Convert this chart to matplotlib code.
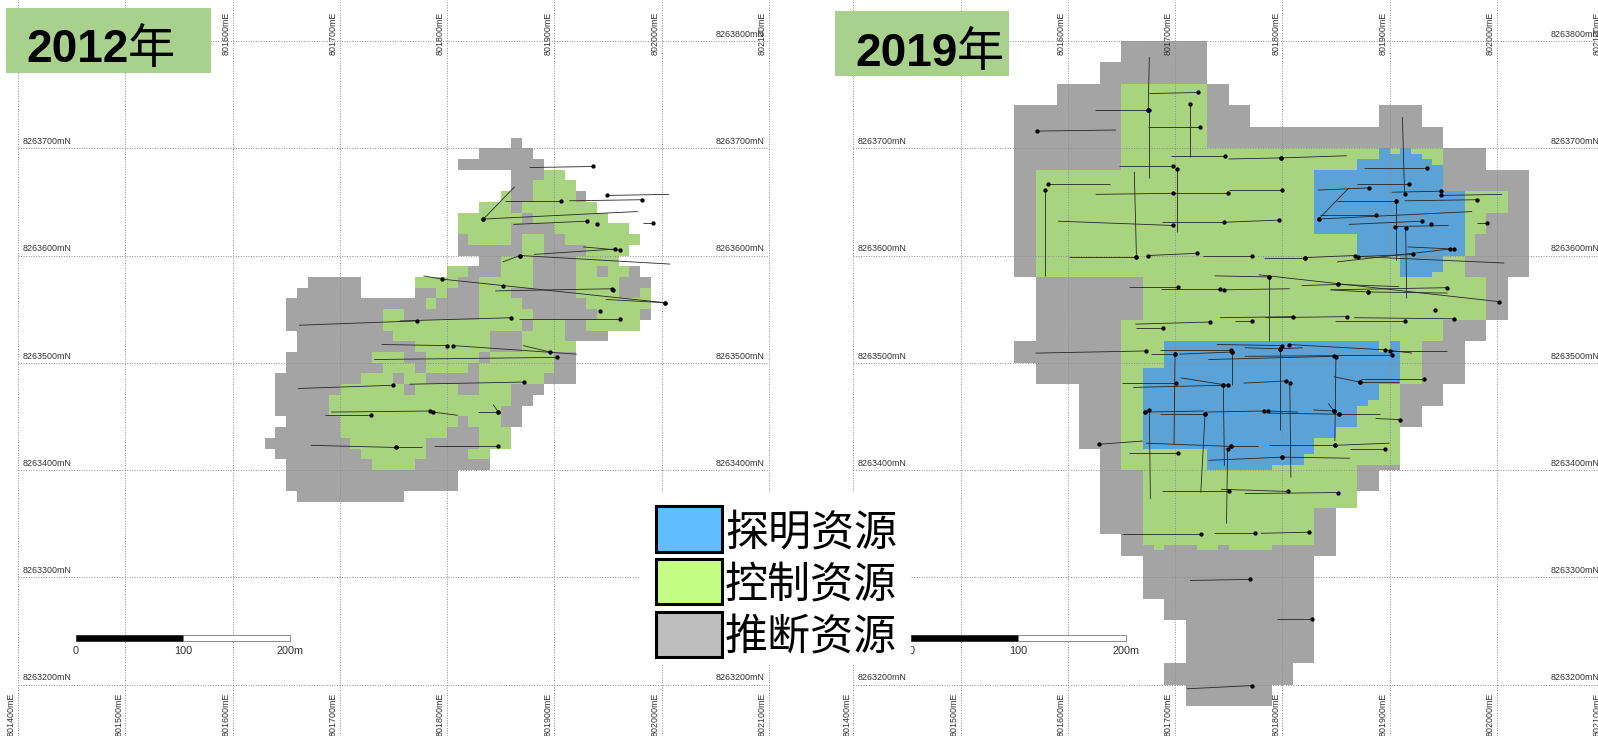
#!/usr/bin/env python3
"""Resource classification maps, 2012 vs 2019, block model plan view with drill traces."""

import matplotlib
matplotlib.use("Agg")
import matplotlib.pyplot as plt
from matplotlib.patches import Rectangle

EAST_BASE = 801000
NORTH_BASE = 8263000
EASTINGS = [801400, 801500, 801600, 801700, 801800, 801900, 802000, 802100]
NORTHINGS = [8263200, 8263300, 8263400, 8263500, 8263600, 8263700, 8263800]
TOP_EASTINGS = [801600, 801700, 801800, 801900, 802000, 802100]
LEFT_SIDE_2012 = [8263200, 8263300, 8263400, 8263500, 8263600, 8263700]
RIGHT_SIDE_2012 = [8263200, 8263400, 8263500, 8263600, 8263700, 8263800]
LEFT_SIDE_2019 = [8263200, 8263400, 8263500, 8263600, 8263700]
RIGHT_SIDE_2019 = [8263200, 8263300, 8263400, 8263500, 8263600, 8263700, 8263800]
SCALE_STOPS = [0, 100, 200]
SCALE_LABELS = ["0", "100", "200m"]

CLASS_NAMES = ["探明资源", "控制资源", "推断资源"]
LEGEND_COLORS = ["#5EBEFF", "#C4FF85", "#BDBDBD"]
BLOCK_COLORS = {"b": "#5BA3D6", "c": "#A9D47F", "G": "#A4A4A4"}

# block rows: north low, north high (offset from NORTH_BASE), runs in 10 m columns from 801400
BLOCKS_2012 = [
    (700, 710, "G46-47"),
    (690, 700, "G43-48"),
    (680, 690, "G41-49"),
    (670, 680, "G46-49 c49-51"),
    (660, 670, "G46-48 c48-52"),
    (650, 660, "c45-46 G46-48 c48-52 G52-53"),
    (640, 650, "c43-46 G46-47 c47-54"),
    (630, 640, "c41-47 G47-48 c48-55"),
    (620, 630, "c41-46 G46-50 c50-57"),
    (610, 620, "G41-42 c42-46 G46-47 c47-49 G49-51 c51-58"),
    (600, 610, "G41-47 c47-49 G49-53 c53-57"),
    (590, 600, "G43-45 c45-48 G48-52 c52-56"),
    (580, 590, "c40-42 G42-45 c45-48 G48-52 c52-54 G54-55 c55-57 G57-58"),
    (570, 580, "G27-32 c37-41 G41-43 c43-48 G48-52 c52-56 G56-59"),
    (560, 570, "G26-32 G37-39 c39-40 G40-43 c43-46 G46-52 c52-56 G56-58 c58-59"),
    (550, 560, "G25-38 c38-39 G39-43 c43-47 G47-53 c53-59"),
    (540, 550, "G25-34 c34-36 G36-43 c43-48 G48-54 c54-58 G58-59"),
    (530, 540, "G25-34 c34-47 G47-48 c48-51 G51-53 c53-58"),
    (520, 530, "G26-35 c35-44 G44-47 c47-51 G51-55"),
    (510, 520, "G26-37 c37-44 G44-47 c47-52"),
    (500, 510, "G25-33 c33-36 G36-38 c38-43 G43-44 c44-50 G50-52"),
    (490, 500, "G25-34 c34-37 G37-38 c38-42 G42-43 c43-50 G50-52"),
    (480, 490, "G24-32 c32-35 G35-36 c36-38 G38-43 c43-49 G49-52"),
    (470, 480, "G24-30 c30-36 G36-37 c37-41 G41-43 c43-46 G46-49"),
    (460, 470, "G24-29 c29-46 G46-48"),
    (450, 460, "G24-29 c29-45 G45-47"),
    (440, 450, "G25-30 c30-41 G41-42 c42-45 G45-47"),
    (430, 440, "G24-30 c30-40 G40-43 c43-46"),
    (420, 430, "G23-31 c31-38 G38-43 c43-46"),
    (410, 420, "G24-32 c32-38 G38-42 c42-44"),
    (400, 410, "G25-33 c33-37 G37-44"),
    (390, 400, "G25-41"),
    (380, 390, "G25-41"),
    (370, 380, "G26-36"),
]

BLOCKS_2019 = [
    (780, 800, "G25-33"),
    (760, 780, "G23-33"),
    (740, 760, "G19-25 c25-33 G33-35"),
    (720, 740, "G15-25 c25-33 G33-37 G49-53"),
    (700, 720, "G15-25 c25-33 G33-55"),
    (680, 700, "G15-25 c25-55 G55-59"),
    (660, 680, "G15-17 c17-55 G55-63"),
    (640, 660, "G15-17 c17-61 G61-63"),
    (620, 640, "G15-17 c17-59 G59-63"),
    (600, 620, "G15-17 c17-58 G58-63"),
    (580, 600, "G15-17 c17-57 G57-63"),
    (560, 580, "G17-27 c27-59 G59-61"),
    (540, 560, "G17-27 c27-59 G59-61"),
    (520, 540, "G17-25 c25-55 G55-59"),
    (500, 520, "G15-25 c25-53 G53-57"),
    (480, 500, "G17-25 c25-53 G53-57"),
    (460, 480, "G21-25 c25-51 G51-55"),
    (440, 460, "G21-25 c25-51 G51-53"),
    (420, 440, "G21-25 c25-51"),
    (405, 420, "G23-25 c25-51"),
    (400, 405, "G23-25 c25-47 G47-51"),
    (380, 400, "G23-27 c27-47 G47-49"),
    (365, 380, "G23-27 c27-47"),
    (360, 365, "G23-27 c27-43 G43-45"),
    (340, 360, "G23-27 c27-43 G43-45"),
    (330, 340, "G25-27 c27-43 G43-45"),
    (325, 330, "G25-45 c28-29 c32-34 c35-39"),
    (320, 325, "G25-45"),
    (300, 320, "G27-43"),
    (280, 300, "G27-43"),
    (260, 280, "G29-43"),
    (240, 260, "G31-43"),
    (220, 240, "G31-43"),
    (200, 220, "G29-41"),
    (180, 200, "G31-39"),
    # measured blocks over the rest
    (695, 700, "b49-50 b51-52"),
    (690, 695, "b49-53"),
    (684, 690, "b47-54"),
    (680, 684, "b47-55"),
    (660, 680, "b43-55"),
    (620, 660, "b43-57"),
    (600, 620, "b47-57"),
    (585, 600, "b51-55"),
    (580, 585, "b51-54"),
    (510, 520, "b29-49 b50-51"),
    (500, 510, "b29-51"),
    (495, 500, "b29-51"),
    (480, 495, "b27-51"),
    (465, 480, "b27-49"),
    (460, 465, "b27-48"),
    (440, 460, "b27-47"),
    (430, 440, "b27-45"),
    (420, 430, "b27-43"),
    (415, 420, "b33-43"),
    (405, 415, "b33-42"),
    (400, 405, "b33-39"),
]

# drill holes: collar east, collar north, end east, end north (offsets from EAST_BASE, NORTH_BASE)
HOLES_2012 = [
    (936, 683, 877, 682), (949, 656, 1007, 657), (982, 652, 914, 651), (906, 651, 854, 651),
    (834, 634, 863, 664), (834, 634, 978, 641), (931, 632, 862, 629), (940, 629, 940, 629),
    (992, 630, 983, 630), (868, 600, 852, 594), (957, 606, 881, 601), (961, 605, 927, 608),
    (868, 600, 1008, 592), (795, 578, 778, 581), (852, 572, 795, 578), (954, 569, 845, 567),
    (1003, 556, 852, 572), (955, 568, 955, 568), (943, 548, 943, 548), (1003, 556, 948, 559),
    (772, 539, 662, 535), (860, 542, 756, 539), (961, 541, 867, 541), (800, 516, 739, 517),
    (806, 516, 921, 508), (896, 510, 871, 516), (903, 505, 732, 503), (872, 482, 765, 480),
    (750, 479, 661, 476), (784, 455, 692, 454), (787, 454, 810, 451), (729, 451, 686, 451),
    (848, 454, 829, 454), (848, 454, 843, 461), (752, 421, 673, 423), (752, 421, 777, 421),
    (848, 422, 788, 422),
]

HOLES_2019 = [
    (675, 736, 676, 785), (676, 736, 676, 672), (721, 752, 676, 751), (714, 741, 714, 692),
    (675, 736, 625, 736), (723, 720, 675, 720), (571, 716, 645, 717), (747, 693, 696, 693),
    (799, 691, 750, 690), (799, 691, 860, 693), (698, 683, 648, 683), (702, 681, 702, 622),
    (582, 667, 639, 667), (579, 661, 579, 581), (800, 661, 750, 661), (749, 658, 699, 658),
    (698, 658, 626, 657), (664, 599, 662, 678), (698, 628, 591, 632), (746, 631, 688, 631),
    (797, 633, 746, 631), (664, 599, 601, 599), (720, 602, 675, 600), (675, 600, 675, 600),
    (772, 600, 726, 600), (821, 598, 783, 598), (821, 598, 867, 600), (868, 600, 868, 600),
    (935, 682, 876, 682), (914, 657, 912, 729), (918, 667, 870, 667), (881, 663, 833, 661),
    (948, 660, 902, 659), (948, 656, 1005, 657), (906, 651, 851, 651), (982, 652, 914, 651),
    (834, 634, 862, 663), (834, 634, 977, 641), (887, 638, 835, 638), (930, 632, 862, 629),
    (939, 629, 939, 629), (905, 627, 955, 628), (915, 626, 916, 560), (906, 651, 906, 596),
    (956, 606, 851, 594), (960, 606, 917, 608), (922, 601, 871, 599), (871, 599, 1007, 593),
    (991, 630, 982, 630),
    (788, 580, 788, 520), (788, 580, 737, 581), (1002, 557, 778, 582), (852, 573, 818, 572),
    (852, 573, 909, 571), (880, 566, 845, 568), (954, 570, 845, 568), (880, 566, 954, 565),
    (703, 571, 657, 571), (742, 569, 687, 569), (746, 568, 807, 569), (942, 549, 942, 549),
    (733, 538, 663, 536), (689, 532, 664, 532), (772, 539, 756, 539), (810, 543, 742, 542),
    (860, 543, 784, 542), (914, 539, 849, 539), (960, 541, 867, 542),
    (673, 511, 570, 509), (700, 508, 678, 508), (752, 512, 686, 512), (753, 510, 753, 479),
    (753, 510, 704, 508), (800, 516, 739, 517), (806, 517, 896, 512), (896, 512, 921, 509),
    (798, 513, 765, 514), (798, 513, 798, 437), (798, 513, 819, 514), (900, 511, 954, 511),
    (902, 507, 765, 506), (848, 506, 731, 503), (850, 505, 849, 427), (700, 508, 699, 424),
    (701, 481, 651, 481), (745, 479, 661, 477), (749, 479, 705, 486), (803, 483, 764, 481),
    (807, 481, 808, 393), (745, 479, 746, 404), (872, 482, 848, 487), (932, 485, 873, 485),
    (872, 482, 909, 482), (672, 454, 672, 454), (676, 456, 677, 373), (672, 454, 727, 455),
    (728, 452, 686, 452), (728, 452, 724, 379), (783, 455, 728, 454), (787, 455, 815, 454),
    (848, 455, 829, 456), (848, 455, 843, 462), (853, 452, 788, 453), (853, 452, 891, 452),
    (910, 447, 887, 448), (629, 424, 670, 427), (752, 422, 673, 425), (749, 420, 748, 350),
    (752, 422, 777, 422), (849, 423, 788, 423), (849, 423, 900, 425), (896, 420, 863, 420),
    (703, 416, 657, 416), (800, 412, 731, 409), (800, 412, 863, 411), (750, 380, 688, 380),
    (805, 380, 743, 382), (852, 379, 765, 378), (724, 340, 651, 340), (775, 341, 736, 341),
    (825, 342, 780, 341), (770, 298, 714, 297), (828, 261, 795, 261), (772, 199, 711, 196),
]

plt.rcParams["font.family"] = ["Liberation Sans", "Noto Sans CJK SC"]

W, H = 1598, 736
PX_PER_M = 1.0725
LABEL_FONT = 6.4


def parse_runs(text):
    for token in text.split():
        start, stop = token[1:].split("-")
        yield token[0], int(start), int(stop)


def draw_panel(fig, left_px, width_px, origin_px, blocks, holes, left_side, right_side):
    ax = fig.add_axes([left_px / W, 0, width_px / W, 1])
    ax.set_xlim(801400 - (origin_px - left_px) / PX_PER_M,
                801400 + (left_px + width_px - origin_px) / PX_PER_M)
    ax.set_ylim(8263800 - (H - 41) / PX_PER_M, 8263800 + 41 / PX_PER_M)
    ax.axis("off")

    for low, high, runs in blocks:
        for kind, start, stop in parse_runs(runs):
            ax.broken_barh([(801400 + start * 10, (stop - start) * 10)],
                           (NORTH_BASE + low, high - low),
                           facecolors=BLOCK_COLORS[kind], linewidth=0,
                           antialiased=False, zorder=1)

    dots = (0, (1, 1.6))
    for e in EASTINGS:
        ax.axvline(e, color="#8c8c8c", lw=0.7, ls=dots, zorder=2)
    for n in NORTHINGS:
        ax.hlines(n, EASTINGS[0], EASTINGS[-1], color="#8c8c8c", lw=0.7, ls=dots, zorder=2)

    for east, north, end_e, end_n in holes:
        ax.plot([EAST_BASE + east, EAST_BASE + end_e], [NORTH_BASE + north, NORTH_BASE + end_n],
                color="#262626", lw=0.6, zorder=3, solid_capstyle="butt")
        ax.plot(EAST_BASE + east, NORTH_BASE + north, "o", color="black", ms=3.1, mew=0, zorder=4)

    for e in EASTINGS:
        ax.text(e - 6, 8263192, f"{e}mE", rotation=90, ha="center", va="top",
                fontsize=LABEL_FONT, color="#333333", zorder=5, clip_on=True)
    for e in TOP_EASTINGS:
        ax.text(e - 6, 8263787, f"{e}mE", rotation=90, ha="center", va="bottom",
                fontsize=LABEL_FONT, color="#333333", zorder=5, clip_on=True)
    for n in left_side:
        ax.text(801404, n + 2, f"{n}mN", ha="left", va="bottom",
                fontsize=LABEL_FONT, color="#333333", zorder=5)
    for n in right_side:
        ax.text(802096, n + 2, f"{n}mN", ha="right", va="bottom",
                fontsize=LABEL_FONT, color="#333333", zorder=5, clip_on=True)

    # scale bar
    bar_e, bar_n = 801454, 8263241
    ax.add_patch(Rectangle((bar_e, bar_n), SCALE_STOPS[1], 5, fc="black", ec="black", lw=0.4, zorder=5))
    ax.add_patch(Rectangle((bar_e + SCALE_STOPS[1], bar_n), SCALE_STOPS[1], 5,
                           fc="white", ec="#777777", lw=0.6, zorder=5))
    for stop, label in zip(SCALE_STOPS, SCALE_LABELS):
        ax.text(bar_e + stop, bar_n - 5, label, ha="center", va="top",
                fontsize=7.8, color="#333333", zorder=5)
    return ax


def main():
    fig = plt.figure(figsize=(W / 100, H / 100), dpi=100, facecolor="white")

    draw_panel(fig, 0, 800, 18, BLOCKS_2012, HOLES_2012, LEFT_SIDE_2012, RIGHT_SIDE_2012)
    draw_panel(fig, 800, 798, 853.3, BLOCKS_2019, HOLES_2019, LEFT_SIDE_2019, RIGHT_SIDE_2019)

    # overlay in pixel units for title boxes and legend
    top = fig.add_axes([0, 0, 1, 1], zorder=10)
    top.set_xlim(0, W)
    top.set_ylim(H, 0)
    top.axis("off")
    top.patch.set_alpha(0)

    for x0, x1, y0, y1, year, tx, cx in [(6, 211, 8, 73, "2012", 26, 151),
                                         (835, 1009, 11, 76, "2019", 855, 980)]:
        top.add_patch(Rectangle((x0, y0), x1 - x0, y1 - y0, fc="#A9D18E", ec="none"))
        top.text(tx, (y0 + y1) / 2 + 10, year, fontsize=33, fontweight="bold", ha="left",
                 va="center", color="black", family="Liberation Sans")
        top.text(cx, (y0 + y1) / 2 + 9, "年", fontsize=34, ha="center", va="center",
                 color="black", family="Noto Sans CJK SC")

    top.add_patch(Rectangle((640, 493), 271, 172, fc="white", ec="none"))
    legend_y = [(506, 552), (559, 604), (612, 657)]
    for (y0, y1), color, name in zip(legend_y, LEGEND_COLORS, CLASS_NAMES):
        top.add_patch(Rectangle((656, y0), 66, y1 - y0, fc=color, ec="black", lw=2.2))
        top.text(725, (y0 + y1) / 2 + 4, name, fontsize=31, ha="left", va="center",
                 color="black", family="Noto Sans CJK SC")

    fig.savefig("out.png", dpi=100)
    plt.close(fig)


if __name__ == "__main__":
    main()
